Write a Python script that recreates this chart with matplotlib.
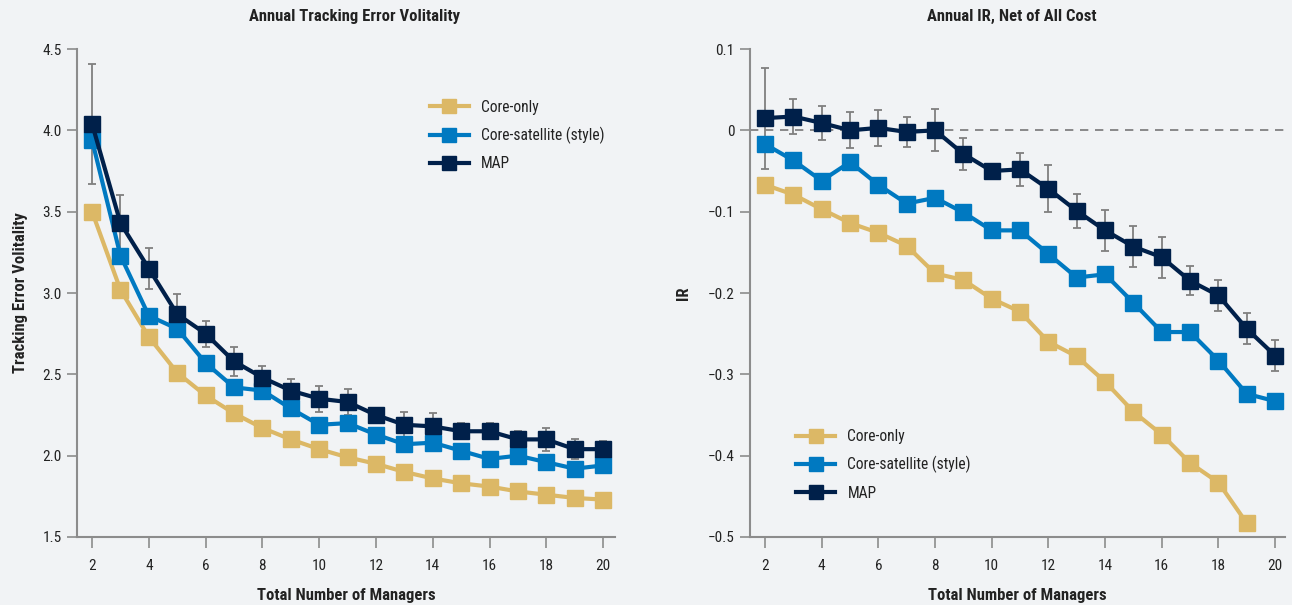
import numpy as np
import matplotlib.pyplot as plt
from matplotlib import font_manager
from matplotlib.ticker import FuncFormatter

# pick a narrow face for all text
installed = {f.name for f in font_manager.fontManager.ttflist}
narrow = [n for n in ['Roboto Condensed', 'Liberation Sans Narrow', 'Open Sans Condensed']
          if n in installed]
if narrow:
    plt.rcParams['font.family'] = [narrow[0], 'DejaVu Sans']
else:
    plt.rcParams['font.family'] = ['DejaVu Sans']
    plt.rcParams['font.stretch'] = 'condensed'

# number of managers on the x axis
managers = np.arange(2, 21)

# tracking error volatility per strategy
te_core = [3.50, 3.02, 2.73, 2.51, 2.37, 2.26, 2.17, 2.10, 2.04, 1.99,
           1.95, 1.90, 1.86, 1.83, 1.81, 1.78, 1.76, 1.74, 1.73]
te_sat = [3.94, 3.23, 2.86, 2.78, 2.57, 2.42, 2.40, 2.29, 2.19, 2.20,
          2.13, 2.07, 2.08, 2.03, 1.98, 2.00, 1.96, 1.92, 1.94]
te_map = [4.04, 3.43, 3.15, 2.87, 2.75, 2.58, 2.48, 2.40, 2.35, 2.33,
          2.25, 2.19, 2.18, 2.15, 2.15, 2.10, 2.10, 2.04, 2.04]
te_map_err = [0.37, 0.17, 0.125, 0.125, 0.08, 0.09, 0.07, 0.07, 0.08, 0.08,
              0.03, 0.08, 0.08, 0.05, 0.05, 0.05, 0.07, 0.06, 0.05]

# information ratio net of all cost
ir_core = [-0.067, -0.079, -0.097, -0.114, -0.126, -0.142, -0.176, -0.184, -0.207,
           -0.223, -0.260, -0.278, -0.309, -0.346, -0.374, -0.409, -0.433, -0.483]
ir_sat = [-0.017, -0.037, -0.062, -0.039, -0.067, -0.090, -0.083, -0.101, -0.123, -0.123,
          -0.152, -0.181, -0.177, -0.212, -0.248, -0.248, -0.283, -0.324, -0.333]
ir_map = [0.015, 0.017, 0.009, 0.0, 0.003, -0.002, 0.0, -0.029, -0.050, -0.048,
          -0.072, -0.099, -0.123, -0.143, -0.156, -0.185, -0.203, -0.244, -0.277]
ir_map_err = [0.062, 0.022, 0.021, 0.022, 0.022, 0.019, 0.026, 0.020, 0.005, 0.020,
              0.029, 0.021, 0.025, 0.025, 0.025, 0.018, 0.019, 0.019, 0.019]

labels = ['Core-only', 'Core-satellite (style)', 'MAP']
colors = ['#dcb866', '#0079c1', '#00204a']
bg = '#f1f3f5'
spine_col = '#8c8c8c'
text_col = '#222222'

fig = plt.figure(figsize=(12.92, 6.05), dpi=100, facecolor=bg)
ax1 = fig.add_axes([0.0596, 0.1124, 0.4164, 0.8066])
ax2 = fig.add_axes([0.5805, 0.1124, 0.4141, 0.8066])


def style_axis(ax):
    ax.set_facecolor(bg)
    for s in ['top', 'right']:
        ax.spines[s].set_visible(False)
    for s in ['left', 'bottom']:
        ax.spines[s].set_color(spine_col)
        ax.spines[s].set_linewidth(1.5)
    ax.tick_params(axis='x', length=8, width=1.2, color=spine_col, pad=8,
                   labelsize=11, labelcolor=text_col)
    ax.tick_params(axis='y', length=7, width=1.2, color=spine_col, pad=4,
                   labelsize=11, labelcolor=text_col)
    ax.set_xticks(np.arange(2, 21, 2))


def draw(ax, ys, err):
    ax.errorbar(managers[:len(ys[2])], ys[2], yerr=err, fmt='none',
                ecolor='#7f7f7f', elinewidth=1.3, capsize=3, capthick=1.3, zorder=1)
    for y, c, lab in zip(ys, colors, labels):
        ax.plot(managers[:len(y)], y, color=c, lw=3, marker='s', ms=11.5,
                label=lab, zorder=3)


leg_kw = dict(frameon=False, fontsize=11.2, handlelength=2.5, handletextpad=0.8,
              labelspacing=0.78, markerscale=0.88, labelcolor=text_col)
lab_kw = dict(fontsize=12, fontweight='bold', color=text_col)

# left panel: tracking error
style_axis(ax1)
draw(ax1, [te_core, te_sat, te_map], te_map_err)
ax1.set_xlim(1.47, 20.42)
ax1.set_ylim(1.5, 4.5)
ax1.set_yticks(np.arange(1.5, 4.6, 0.5))
ax1.yaxis.set_major_formatter(FuncFormatter(lambda v, p: '%.1f' % v))
ax1.set_title('Annual Tracking Error Volitality', pad=20, x=0.515, **lab_kw)
ax1.set_xlabel('Total Number of Managers', labelpad=11, **lab_kw)
ax1.set_ylabel('Tracking Error Volitality', labelpad=10, **lab_kw)
ax1.legend(loc='upper left', bbox_to_anchor=(0.63, 0.925), **leg_kw)

# right panel: information ratio
style_axis(ax2)
ax2.axhline(0, color='#777777', lw=1.2, ls=(0, (5, 4)), zorder=0)
draw(ax2, [ir_core, ir_sat, ir_map], ir_map_err)
ax2.set_xlim(1.47, 20.35)
ax2.set_ylim(-0.5, 0.1)
ax2.set_yticks(np.arange(-0.5, 0.11, 0.1))
ax2.yaxis.set_major_formatter(
    FuncFormatter(lambda v, p: '0' if abs(v) < 1e-9 else ('%.1f' % v).replace('-', '\u2212')))
ax2.set_title('Annual IR, Net of All Cost', pad=20, x=0.49, **lab_kw)
ax2.set_xlabel('Total Number of Managers', labelpad=11, **lab_kw)
ax2.set_ylabel('IR', labelpad=12, **lab_kw)
ax2.legend(loc='upper left', bbox_to_anchor=(0.06, 0.25), **leg_kw)

plt.savefig('out.png', dpi=100, facecolor=bg)
